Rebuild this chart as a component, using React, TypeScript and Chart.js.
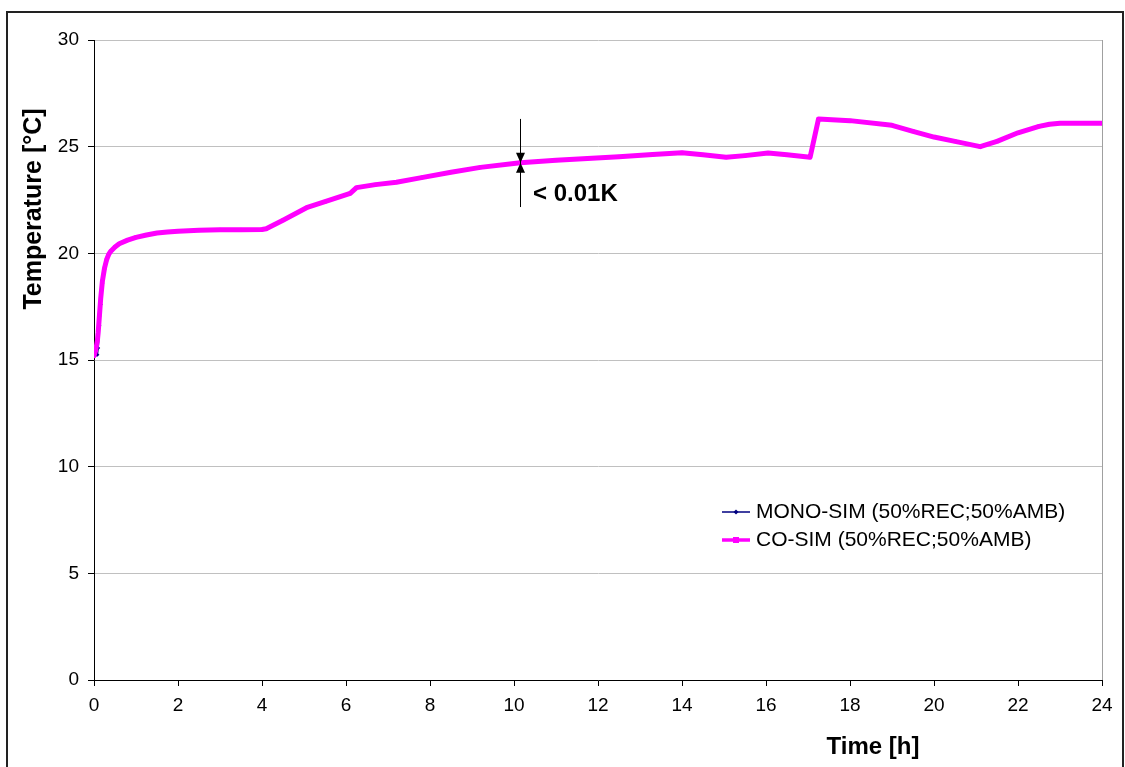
import { useEffect, useRef } from "react";
import { Chart, registerables } from "chart.js";

Chart.register(...registerables);

// Simulation time in hours
const timeHours = [
  0, 0.04, 0.08, 0.1, 0.13, 0.16, 0.2, 0.25, 0.3, 0.35, 0.4, 0.5, 0.6, 0.8, 1.0, 1.25, 1.5, 1.75, 2,
  2.5, 3, 3.5, 4, 4.1, 4.5, 5.06, 5.5, 6.1, 6.25, 6.7, 7.2, 7.8, 8.5, 9.2, 10.15, 11, 11.75, 12.5,
  13.3, 14, 14.5, 15.05, 15.5, 16.05, 16.5, 17.05, 17.25, 18, 19, 19.5, 20, 20.5, 21.1, 21.5, 22,
  22.5, 22.75, 23, 24,
];

// Room temperature [°C], monolithic simulation
const monoSimTemp = [
  15.2, 15.22, 15.25, 15.56, 16.6, 17.6, 18.6, 19.3, 19.7, 19.95, 20.1, 20.3, 20.45, 20.62, 20.75,
  20.86, 20.95, 21.0, 21.04, 21.08, 21.1, 21.1, 21.12, 21.15, 21.55, 22.14, 22.42, 22.81, 23.08,
  23.22, 23.33, 23.55, 23.8, 24.03, 24.25, 24.36, 24.45, 24.53, 24.63, 24.72, 24.62, 24.5, 24.58,
  24.7, 24.62, 24.5, 26.3, 26.22, 26.0, 25.72, 25.45, 25.25, 25.0, 25.25, 25.65, 25.95, 26.05, 26.1,
  26.1,
];

// Room temperature [°C], co-simulation
const coSimTemp = [
  15.2, 15.45, 15.9, 16.3, 17.1, 17.9, 18.7, 19.3, 19.7, 19.95, 20.1, 20.3, 20.45, 20.62, 20.75,
  20.86, 20.95, 21.0, 21.04, 21.08, 21.1, 21.1, 21.12, 21.15, 21.55, 22.14, 22.42, 22.81, 23.08,
  23.22, 23.33, 23.55, 23.8, 24.03, 24.25, 24.36, 24.45, 24.53, 24.63, 24.72, 24.62, 24.5, 24.58,
  24.7, 24.62, 24.5, 26.3, 26.22, 26.0, 25.72, 25.45, 25.25, 25.0, 25.25, 25.65, 25.95, 26.05, 26.1,
  26.1,
];

const xTicks = [0, 2, 4, 6, 8, 10, 12, 14, 16, 18, 20, 22, 24];
const yTicks = [0, 5, 10, 15, 20, 25, 30];

const seriesNames = ["MONO-SIM (50%REC;50%AMB)", "CO-SIM (50%REC;50%AMB)"];

// Deviation marker between the two runs
const deviationTime = 10.15;
const deviationTemp = 24.25;
const deviationSpan = [22.17, 26.3];
const deviationLabel = "< 0.01K";

const xTitle = "Time [h]";
const yTitle = "Temperature [°C]";

const FONT = "'Liberation Sans', Arial, sans-serif";
const NAVY = "#000080";
const MAGENTA = "#ff00ff";

const decorations = {
  id: "decorations",
  afterDatasetsDraw(chart: any) {
    const { ctx, chartArea } = chart;
    const xs = chart.scales.x;
    const ys = chart.scales.y;
    ctx.save();

    // plot area right edge
    ctx.strokeStyle = "#a0a0a0";
    ctx.lineWidth = 1;
    ctx.beginPath();
    ctx.moveTo(Math.round(chartArea.right) + 0.5, chartArea.top);
    ctx.lineTo(Math.round(chartArea.right) + 0.5, chartArea.bottom);
    ctx.stroke();

    // deviation annotation
    const px = Math.round(xs.getPixelForValue(deviationTime)) + 0.5;
    const py = ys.getPixelForValue(deviationTemp);
    ctx.strokeStyle = "#000";
    ctx.fillStyle = "#000";
    ctx.lineWidth = 1;
    ctx.beginPath();
    ctx.moveTo(px, ys.getPixelForValue(deviationSpan[1]));
    ctx.lineTo(px, ys.getPixelForValue(deviationSpan[0]));
    ctx.stroke();
    ctx.beginPath();
    ctx.moveTo(px - 4.5, py - 10);
    ctx.lineTo(px + 4.5, py - 10);
    ctx.lineTo(px, py);
    ctx.closePath();
    ctx.fill();
    ctx.beginPath();
    ctx.moveTo(px - 4.5, py + 10);
    ctx.lineTo(px + 4.5, py + 10);
    ctx.lineTo(px, py);
    ctx.closePath();
    ctx.fill();
    ctx.font = `bold 24px ${FONT}`;
    ctx.textAlign = "left";
    ctx.textBaseline = "alphabetic";
    ctx.fillText(deviationLabel, px + 12.5, py + 38);

    // axis titles
    ctx.font = `bold 24px ${FONT}`;
    ctx.textAlign = "center";
    ctx.fillText(xTitle, chartArea.left + 779, 754);
    ctx.save();
    ctx.translate(40.5, 209);
    ctx.rotate(-Math.PI / 2);
    ctx.font = `bold 25px ${FONT}`;
    ctx.fillText(yTitle, 0, 0);
    ctx.restore();

    // legend
    const lx = chartArea.left + 628;
    const rows = [chartArea.top + 472, chartArea.top + 500];
    ctx.font = `21px ${FONT}`;
    ctx.textAlign = "left";
    ctx.textBaseline = "middle";
    // MONO-SIM
    ctx.strokeStyle = NAVY;
    ctx.lineWidth = 1.5;
    ctx.beginPath();
    ctx.moveTo(lx, rows[0]);
    ctx.lineTo(lx + 28, rows[0]);
    ctx.stroke();
    ctx.fillStyle = NAVY;
    ctx.beginPath();
    ctx.moveTo(lx + 14, rows[0] - 2.5);
    ctx.lineTo(lx + 16.5, rows[0]);
    ctx.lineTo(lx + 14, rows[0] + 2.5);
    ctx.lineTo(lx + 11.5, rows[0]);
    ctx.closePath();
    ctx.fill();
    ctx.fillStyle = "#000";
    ctx.fillText(seriesNames[0], lx + 34, rows[0]);
    // CO-SIM
    ctx.strokeStyle = MAGENTA;
    ctx.lineWidth = 3.5;
    ctx.beginPath();
    ctx.moveTo(lx, rows[1]);
    ctx.lineTo(lx + 28, rows[1]);
    ctx.stroke();
    ctx.fillStyle = MAGENTA;
    ctx.fillRect(lx + 11, rows[1] - 3, 6, 6);
    ctx.fillStyle = "#000";
    ctx.fillText(seriesNames[1], lx + 34, rows[1]);

    ctx.restore();
  },
  afterDraw(chart: any) {
    const { ctx } = chart;
    ctx.save();
    ctx.strokeStyle = "#222";
    ctx.lineWidth = 2;
    ctx.strokeRect(7, 12, 1116, 800);
    ctx.restore();
  },
};

export default function App() {
  const canvasRef = useRef<HTMLCanvasElement | null>(null);

  useEffect(() => {
    if (!canvasRef.current) return;
    const chart = new Chart(canvasRef.current, {
      type: "line",
      data: {
        datasets: [
          {
            label: seriesNames[0],
            data: timeHours.map((t, i) => ({ x: t, y: monoSimTemp[i] })),
            borderColor: NAVY,
            backgroundColor: NAVY,
            borderWidth: 1.5,
            pointStyle: "rectRot",
            pointRadius: 2,
            pointBorderWidth: 0,
            tension: 0,
            order: 2,
          },
          {
            label: seriesNames[1],
            data: timeHours.map((t, i) => ({ x: t, y: coSimTemp[i] })),
            borderColor: MAGENTA,
            backgroundColor: MAGENTA,
            borderWidth: 5,
            borderJoinStyle: "round",
            borderCapStyle: "round",
            pointStyle: "rect",
            pointRadius: 2.5,
            pointBorderWidth: 0,
            tension: 0,
            order: 1,
          },
        ],
      },
      options: {
        animation: false,
        responsive: false,
        layout: { padding: { top: 40, right: 23, left: 0, bottom: 0 } },
        plugins: {
          legend: { display: false },
          tooltip: { enabled: false },
        },
        scales: {
          x: {
            type: "linear",
            min: 0,
            max: 24,
            afterBuildTicks: (scale: any) => {
              scale.ticks = xTicks.map((v) => ({ value: v }));
            },
            afterFit: (scale: any) => {
              scale.height = 87;
            },
            ticks: {
              color: "#000",
              font: { family: FONT, size: 19 },
              padding: 8,
              maxRotation: 0,
            },
            grid: {
              drawOnChartArea: false,
              drawTicks: true,
              tickLength: 6,
              tickColor: "#000",
            },
            border: { color: "#000", width: 1 },
          },
          y: {
            type: "linear",
            min: 0,
            max: 30,
            afterBuildTicks: (scale: any) => {
              scale.ticks = yTicks.map((v) => ({ value: v }));
            },
            afterFit: (scale: any) => {
              scale.width = 94;
            },
            ticks: {
              color: "#000",
              font: { family: FONT, size: 19 },
              padding: 9,
            },
            grid: {
              color: "#c0c0c0",
              lineWidth: 1,
              tickLength: 6,
              tickColor: "#000",
            },
            border: { color: "#000", width: 1 },
          },
        },
      },
      plugins: [decorations],
    } as any);
    return () => chart.destroy();
  }, []);

  return (
    <canvas
      ref={canvasRef}
      width={1125}
      height={767}
      style={{ position: "absolute", left: 0, top: 0, display: "block", background: "#fff" }}
    />
  );
}
